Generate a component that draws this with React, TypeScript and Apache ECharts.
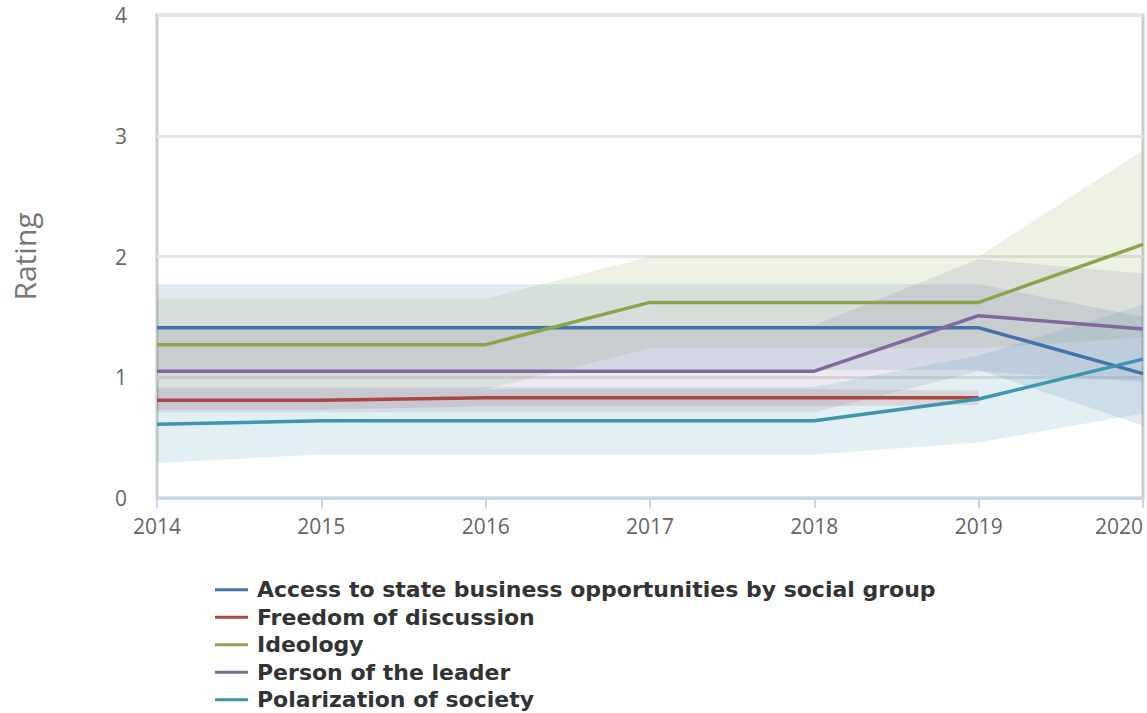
import React, { useEffect, useRef } from "react";
import * as echarts from "echarts";

const years = ["2014", "2015", "2016", "2017", "2018", "2019", "2020"];

const accessNames = "Access to state business opportunities by social group";
const freedomName = "Freedom of discussion";
const ideologyName = "Ideology";
const leaderName = "Person of the leader";
const polarName = "Polarization of society";

const access = [1.41, 1.41, 1.41, 1.41, 1.41, 1.41, 1.03];
const accessLow = [1.06, 1.06, 1.06, 1.06, 1.06, 1.06, 0.6];
const accessHigh = [1.77, 1.77, 1.77, 1.77, 1.77, 1.77, 1.5];

const freedom = [0.81, 0.81, 0.83, 0.83, 0.83, 0.83, null];
const freedomLow = [0.73, 0.73, 0.76, 0.76, 0.76, 0.77, null];
const freedomHigh = [0.9, 0.9, 0.9, 0.9, 0.9, 0.89, null];

const ideology = [1.27, 1.27, 1.27, 1.62, 1.62, 1.62, 2.1];
const ideologyLow = [0.9, 0.9, 0.9, 1.24, 1.24, 1.24, 1.33];
const ideologyHigh = [1.65, 1.65, 1.65, 2.0, 2.0, 2.0, 2.88];

const leader = [1.05, 1.05, 1.05, 1.05, 1.05, 1.51, 1.4];
const leaderLow = [0.71, 0.71, 0.71, 0.71, 0.71, 1.05, 0.96];
const leaderHigh = [1.43, 1.43, 1.43, 1.43, 1.43, 1.98, 1.86];

const polar = [0.61, 0.64, 0.64, 0.64, 0.64, 0.82, 1.15];
const polarLow = [0.29, 0.36, 0.36, 0.36, 0.36, 0.46, 0.7];
const polarHigh = [0.92, 0.92, 0.92, 0.92, 0.92, 1.18, 1.6];

const yTicks = [0, 1, 2, 3, 4];

const COLORS = ["#4572A7", "#AA4643", "#89A54E", "#80699B", "#3D96AE"];

type Row = {
  name: string;
  mid: (number | null)[];
  low: (number | null)[];
  high: (number | null)[];
};

const rows: Row[] = [
  { name: accessNames, mid: access, low: accessLow, high: accessHigh },
  { name: freedomName, mid: freedom, low: freedomLow, high: freedomHigh },
  { name: ideologyName, mid: ideology, low: ideologyLow, high: ideologyHigh },
  { name: leaderName, mid: leader, low: leaderLow, high: leaderHigh },
  { name: polarName, mid: polar, low: polarLow, high: polarHigh },
];

function hexToRgba(hex: string, a: number) {
  const n = parseInt(hex.slice(1), 16);
  return `rgba(${(n >> 16) & 255},${(n >> 8) & 255},${n & 255},${a})`;
}

export default function App() {
  const ref = useRef<HTMLDivElement>(null);
  useEffect(() => {
    if (!ref.current) return;
    const chart = echarts.init(ref.current, undefined, { renderer: "svg" });
    const series: any[] = [];
    rows.forEach((r, i) => {
      series.push({
        name: "band-low-" + i,
        type: "line",
        stack: "band" + i,
        data: r.low,
        symbol: "none",
        lineStyle: { opacity: 0 },
        silent: true,
        z: 1,
      });
      series.push({
        name: "band-diff-" + i,
        type: "line",
        stack: "band" + i,
        data: r.high.map((h, k) =>
          h == null || r.low[k] == null ? null : +(h - (r.low[k] as number)).toFixed(3)
        ),
        symbol: "none",
        lineStyle: { opacity: 0 },
        areaStyle: { color: hexToRgba(COLORS[i], 0.15), opacity: 1 },
        silent: true,
        z: 1,
      });
    });
    rows.forEach((r, i) => {
      series.push({
        name: r.name,
        type: "line",
        data: r.mid,
        symbol: "none",
        showSymbol: false,
        lineStyle: { color: COLORS[i], width: 3.5 },
        itemStyle: { color: COLORS[i] },
        z: 5,
      });
    });

    chart.setOption({
      animation: false,
      color: COLORS,
      textStyle: { fontFamily: "Open Sans" },
      grid: {
        left: 157,
        right: 4,
        top: 15,
        bottom: 215,
        show: true,
        borderColor: "#cccccc",
        borderWidth: 3,
        backgroundColor: "transparent",
      },
      legend: {
        data: rows.map((r) => r.name),
        orient: "vertical",
        left: 215,
        top: 576,
        height: 140,
        padding: 0,
        icon: "rect",
        itemWidth: 33,
        itemHeight: 3,
        itemGap: 0,
        selectedMode: false,
        textStyle: {
          fontFamily: "DejaVu Sans",
          fontWeight: "bold",
          fontSize: 22,
          color: "#333333",
          lineHeight: 27.5,
          padding: [0, 0, 0, 4],
        },
      },
      xAxis: {
        type: "category",
        data: years,
        boundaryGap: false,
        axisLine: { show: true, lineStyle: { color: "#ccd6eb", width: 3 } },
        axisTick: { show: true, length: 10, lineStyle: { color: "#ccd6eb", width: 2 } },
        axisLabel: {
          color: "#666666",
          fontSize: 21,
          margin: 17,
          alignMaxLabel: "right",
          fontFamily: "Open Sans",
        },
        splitLine: { show: false },
      },
      yAxis: {
        type: "value",
        min: yTicks[0],
        max: yTicks[yTicks.length - 1],
        interval: 1,
        name: "Rating",
        nameLocation: "middle",
        nameGap: 118,
        nameTextStyle: { color: "#777777", fontSize: 30, fontFamily: "Open Sans" },
        axisLine: { show: false },
        axisTick: { show: false },
        axisLabel: { color: "#666666", fontSize: 21, margin: 30, fontFamily: "Open Sans" },
        splitLine: { show: true, lineStyle: { color: "#e6e6e6", width: 3 } },
      },
      series,
    });
    return () => chart.dispose();
  }, []);
  return (
    <div
      ref={ref}
      style={{ position: "fixed", left: 0, top: 0, width: 1147, height: 713, background: "#ffffff" }}
    />
  );
}
